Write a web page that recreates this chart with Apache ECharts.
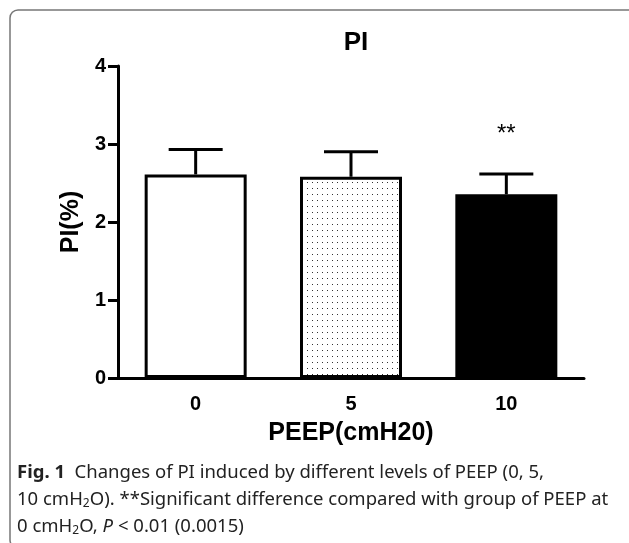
<!DOCTYPE html>
<html>
<head>
<meta charset="utf-8">
<script src="https://cdn.jsdelivr.net/npm/echarts@6/dist/echarts.min.js"></script>
<style>
  html, body { margin: 0; padding: 0; background: #fff; }
  #chart { width: 629px; height: 543px; }
</style>
</head>
<body>
<div id="chart"></div>
<script>
// PEEP groups and PI values (mean and upper SEM)
const categories = ['0', '5', '10'];
const means = [2.61, 2.58, 2.355];
const errors = [0.32, 0.32, 0.26];
const sigMarks = ['', '', '**'];
const yMin = 0, yMax = 4, yStep = 1;

const captionLines = [
  '{b|Fig. 1}  Changes of PI induced by different levels of PEEP (0, 5,',
  '10 cmH{s|2}O). **Significant difference compared with group of PEEP at',
  '0 cmH{s|2}O, {i|P} < 0.01 (0.0015)'
];

// small dotted tile for the middle bar
function dotPattern() {
  const c = document.createElement('canvas');
  c.width = 5; c.height = 6;
  const ctx = c.getContext('2d');
  ctx.fillStyle = '#fff';
  ctx.fillRect(0, 0, 5, 6);
  ctx.fillStyle = '#333';
  ctx.fillRect(2, 2, 1, 1);
  return c;
}

const fills = ['#ffffff', { image: dotPattern(), repeat: 'repeat' }, '#000000'];
const FONT = 'Liberation Sans, Arial, sans-serif';
const CAP_FONT = 'Noto Sans, sans-serif';
const CAP_SIZE = 18.5;

let myChart = echarts.init(document.getElementById('chart'), null, { renderer: 'canvas' });

myChart.setOption({
  animation: false,
  backgroundColor: '#fff',
  title: {
    text: 'PI',
    left: 351,
    top: 25,
    textAlign: 'center',
    textStyle: { fontFamily: FONT, fontWeight: 'bold', fontSize: 26, color: '#000' }
  },
  grid: { left: 118, right: 45, top: 66, bottom: 165, containLabel: false },
  xAxis: {
    type: 'category',
    data: categories,
    name: 'PEEP(cmH20)',
    nameLocation: 'middle',
    nameGap: 43,
    nameTextStyle: { fontFamily: FONT, fontWeight: 'bold', fontSize: 25, color: '#000' },
    axisLine: { lineStyle: { color: '#000', width: 3 } },
    axisTick: { alignWithLabel: true, length: 10, lineStyle: { color: '#000', width: 3 } },
    axisLabel: { margin: 16, fontFamily: FONT, fontWeight: 'bold', fontSize: 20, color: '#000' }
  },
  yAxis: {
    type: 'value',
    min: yMin,
    max: yMax,
    interval: yStep,
    name: 'PI(%)',
    nameLocation: 'middle',
    nameRotate: 90,
    nameGap: 34,
    nameTextStyle: { fontFamily: FONT, fontWeight: 'bold', fontSize: 25, color: '#000' },
    axisLine: { show: true, lineStyle: { color: '#000', width: 3 } },
    axisTick: { show: true, length: 10, lineStyle: { color: '#000', width: 3 } },
    axisLabel: { margin: 12, fontFamily: FONT, fontWeight: 'bold', fontSize: 20, color: '#000' },
    splitLine: { show: false }
  },
  series: [
    {
      type: 'bar',
      barWidth: 102,
      data: means.map((v, i) => ({
        value: v,
        itemStyle: { color: fills[i], borderColor: '#000', borderWidth: 3 }
      })),
      z: 2
    },
    {
      type: 'custom',
      z: 3,
      data: means.map((v, i) => [i, v, v + errors[i]]),
      renderItem: function (params, api) {
        const i = api.value(0);
        const lo = api.coord([i, api.value(1)]);
        const hi = api.coord([i, api.value(2)]);
        const half = 27;
        const children = [
          { type: 'line', shape: { x1: lo[0], y1: lo[1], x2: hi[0], y2: hi[1] },
            style: { stroke: '#000', lineWidth: 3 } },
          { type: 'line', shape: { x1: hi[0] - half, y1: hi[1], x2: hi[0] + half, y2: hi[1] },
            style: { stroke: '#000', lineWidth: 3 } }
        ];
        if (sigMarks[i]) {
          children.push({
            type: 'text',
            style: { text: sigMarks[i], x: hi[0], y: hi[1] - 40, align: 'center', verticalAlign: 'middle',
                     font: '24px ' + FONT, fill: '#000' }
          });
        }
        return { type: 'group', children: children };
      }
    }
  ],
  graphic: [
    {
      type: 'rect',
      shape: { x: 10, y: 10, width: 700, height: 538, r: 8 },
      style: { fill: null, stroke: '#777', lineWidth: 1.5 },
      silent: true
    }
  ].concat(captionLines.map((t, k) => ({
    type: 'text',
    left: 17,
    top: 463 + k * 27,
    style: {
      text: t,
      font: CAP_SIZE + 'px ' + CAP_FONT,
      fill: '#222',
      rich: {
        b: { fontFamily: CAP_FONT, fontSize: CAP_SIZE, fontWeight: 'bold', fill: '#222' },
        s: { fontFamily: CAP_FONT, fontSize: 12, fill: '#222', verticalAlign: 'bottom', padding: [9, 0, 0, 0] },
        i: { fontFamily: CAP_FONT, fontSize: CAP_SIZE, fontStyle: 'italic', fill: '#222' }
      }
    }
  })))
});
</script>
</body>
</html>
